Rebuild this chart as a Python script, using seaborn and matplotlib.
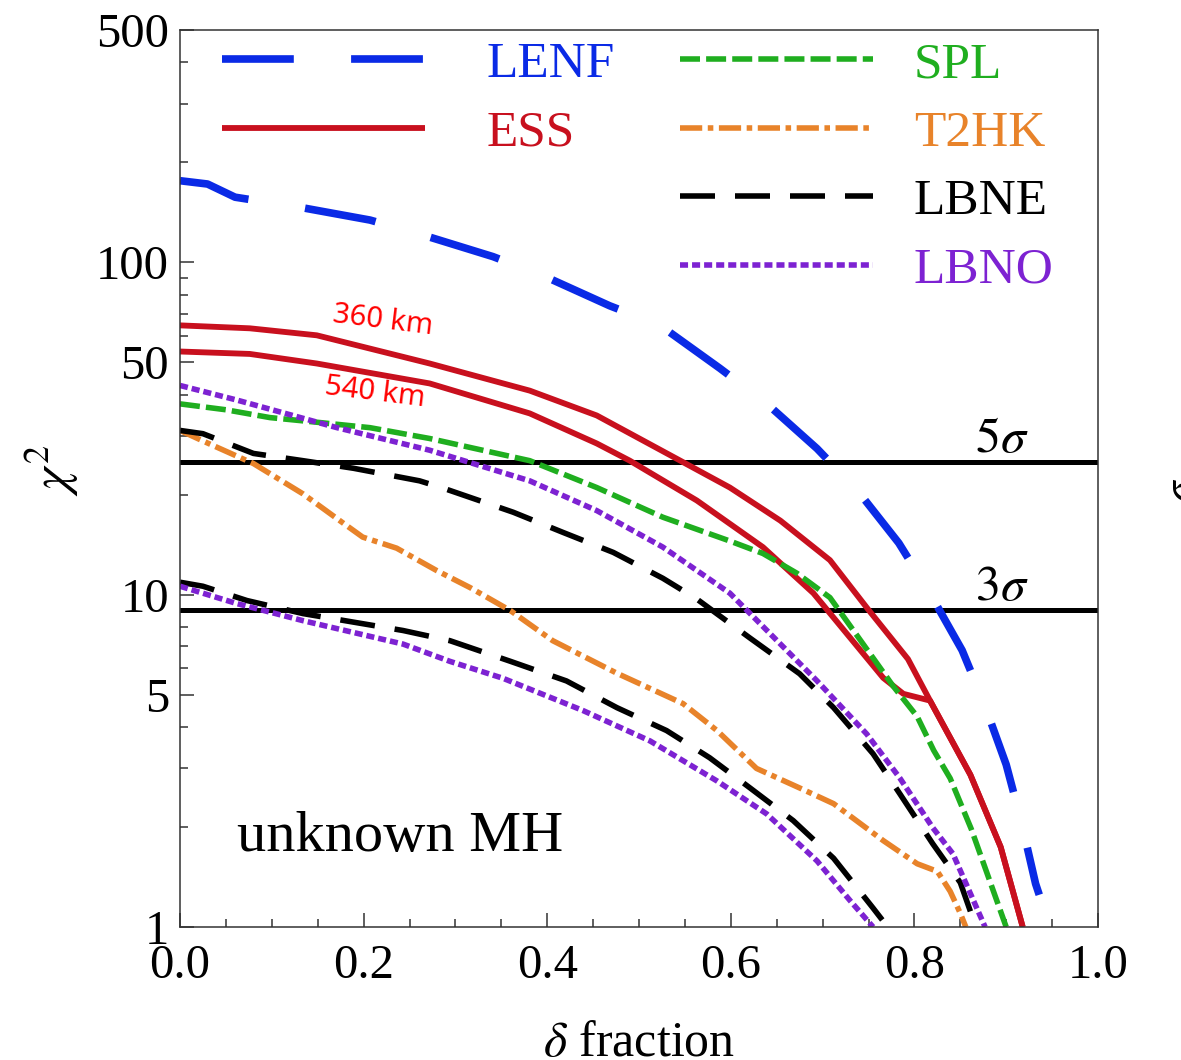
import matplotlib
matplotlib.use("Agg")
import matplotlib.pyplot as plt
import seaborn as sns
import pandas as pd
from matplotlib.ticker import FixedLocator, FixedFormatter, NullFormatter, LogLocator

# ---------------- data: chi^2 versus delta fraction ----------------
lenf_x = [0, 0.03, 0.06, 0.133, 0.207, 0.268, 0.341, 0.40, 0.468, 0.523, 0.588, 0.639,
          0.694, 0.739, 0.783, 0.816, 0.852, 0.876, 0.90, 0.916, 0.932, 0.936]
lenf_y = [176, 172, 157, 146, 134, 120, 104, 90, 74, 64.6, 48, 37.6,
          27.5, 20.4, 14.3, 10.2, 6.8, 4.7, 3.08, 2.1, 1.35, 1.25]

ess360_x = [0, 0.076, 0.149, 0.272, 0.381, 0.454, 0.545, 0.599, 0.654, 0.708, 0.75,
            0.793, 0.817, 0.861, 0.894, 0.918]
ess360_y = [64.6, 63.3, 60.3, 49.6, 41.1, 34.6, 25.3, 21.0, 16.7, 12.7, 9.0,
            6.4, 4.8, 2.87, 1.74, 1.0]

ess540_x = [0, 0.076, 0.149, 0.272, 0.381, 0.454, 0.49, 0.563, 0.635, 0.69, 0.766,
            0.788, 0.817, 0.861, 0.894, 0.918]
ess540_y = [53.9, 53.0, 49.6, 43.2, 35.1, 28.5, 25.3, 19.2, 13.9, 10.1, 5.62,
            5.03, 4.8, 2.87, 1.74, 1.0]

spl_x = [0, 0.05, 0.098, 0.15, 0.207, 0.272, 0.381, 0.454, 0.526, 0.599, 0.635, 0.672,
         0.708, 0.777, 0.803, 0.821, 0.839, 0.862, 0.90]
spl_y = [37.5, 36, 34.1, 33, 31.8, 29.5, 25.3, 21.0, 17.1, 14.5, 13.3, 11.6,
         9.8, 5.3, 4.3, 3.4, 2.8, 1.97, 1.0]

t2hk_x = [0, 0.025, 0.08, 0.134, 0.178, 0.199, 0.236, 0.28, 0.316, 0.36, 0.406, 0.476,
          0.548, 0.585, 0.628, 0.675, 0.712, 0.766, 0.803, 0.825, 0.839, 0.85, 0.856]
t2hk_y = [31.2, 29, 24.8, 20.1, 16.4, 14.9, 13.8, 11.8, 10.5, 8.95, 7.27, 5.8,
          4.7, 3.9, 3.0, 2.62, 2.35, 1.82, 1.55, 1.47, 1.28, 1.1, 1.0]

lbne_hi_x = [0, 0.025, 0.08, 0.134, 0.189, 0.261, 0.287, 0.363, 0.417, 0.472, 0.526,
             0.563, 0.621, 0.675, 0.712, 0.755, 0.784, 0.82, 0.85, 0.867]
lbne_hi_y = [31.2, 30.5, 26.6, 25.3, 24, 22, 20.9, 17.7, 15.4, 13.4, 11.2,
             9.7, 7.4, 5.78, 4.57, 3.32, 2.52, 1.78, 1.36, 1.0]

lbno_hi_x = [0, 0.062, 0.171, 0.272, 0.381, 0.454, 0.526, 0.599, 0.694, 0.748, 0.784,
             0.82, 0.842, 0.877]
lbno_hi_y = [42.6, 38.5, 31.8, 27.2, 22.0, 17.9, 13.9, 10.1, 5.5, 3.81, 2.81,
             1.99, 1.66, 1.0]

lbne_lo_x = [0, 0.025, 0.073, 0.134, 0.243, 0.294, 0.36, 0.421, 0.476, 0.53, 0.577,
             0.621, 0.668, 0.712, 0.755, 0.765]
lbne_lo_y = [10.9, 10.6, 9.6, 8.77, 7.8, 7.27, 6.3, 5.5, 4.57, 3.9, 3.23,
             2.62, 2.09, 1.61, 1.14, 1.05]

lbno_lo_x = [0, 0.062, 0.134, 0.243, 0.294, 0.352, 0.439, 0.512, 0.585, 0.639, 0.694,
             0.73, 0.755]
lbno_lo_y = [10.6, 9.4, 8.35, 7.1, 6.3, 5.6, 4.48, 3.63, 2.75, 2.19, 1.58,
             1.2, 1.0]

sigma_levels = [25, 9]
sigma_labels = ["$5\\sigma$", "$3\\sigma$"]

# ---------------- styles ----------------
BLUE = "#0a2ae6"
RED = "#c8101e"
GREEN = "#1fae1f"
ORANGE = "#e8832a"
PURPLE = "#7d22d2"
BLACK = "#000000"

sns.set_style("ticks")
plt.rcParams["font.family"] = ["Liberation Serif", "DejaVu Serif"]
plt.rcParams["mathtext.fontset"] = "stix"
for key in ("text.color", "axes.labelcolor", "xtick.labelcolor", "ytick.labelcolor"):
    plt.rcParams[key] = "black"

fig = plt.figure(figsize=(11.81, 10.60), dpi=100)
ax = fig.add_axes([180 / 1181, 1 - 927 / 1060, 918 / 1181, 897 / 1060])


def draw(xs, ys, color, lw, dashes):
    df = pd.DataFrame({"x": xs, "y": ys})
    sns.lineplot(data=df, x="x", y="y", ax=ax, color=color, lw=lw,
                 sort=False, estimator=None)
    line = ax.lines[-1]
    if dashes is None:
        line.set_linestyle("-")
    else:
        line.set_linestyle((0, dashes))
    line.set_solid_capstyle("butt")
    line.set_dash_capstyle("butt")
    line.set_solid_joinstyle("round")
    return line


h_lenf = draw(lenf_x, lenf_y, BLUE, 5.5, (9.4, 7.5))
h_ess = draw(ess360_x, ess360_y, RED, 4.2, None)
draw(ess540_x, ess540_y, RED, 4.2, None)
h_spl = draw(spl_x, spl_y, GREEN, 4.0, (3.6, 1.1))
h_t2hk = draw(t2hk_x, t2hk_y, ORANGE, 4.0, (4.0, 1.0, 1.0, 1.0))
h_lbne = draw(lbne_hi_x, lbne_hi_y, BLACK, 4.0, (6.3, 3.6))
draw(lbne_lo_x, lbne_lo_y, BLACK, 4.0, (6.3, 3.6))
h_lbno = draw(lbno_hi_x, lbno_hi_y, PURPLE, 4.0, (1.45, 0.72))
draw(lbno_lo_x, lbno_lo_y, PURPLE, 4.0, (1.45, 0.72))

for lvl, lab in zip(sigma_levels, sigma_labels):
    ax.axhline(lvl, color="black", lw=3.6, zorder=1)
    ax.text(0.866, lvl * 1.072, lab, fontsize=36, ha="left", va="baseline")

ax.text(0.221, 66.9, "360 km", color="#ff0000", fontsize=21, rotation=-7,
        ha="center", va="center", family=["Noto Sans", "DejaVu Sans"])
ax.text(0.212, 40.6, "540 km", color="#ff0000", fontsize=21, rotation=-7,
        ha="center", va="center", family=["Noto Sans", "DejaVu Sans"])
ax.text(0.062, 1.69, "unknown MH", fontsize=42, ha="left", va="baseline")

# ---------------- axes ----------------
ax.set_yscale("log")
ax.set_xlim(0, 1)
ax.set_ylim(1, 500)
ax.yaxis.set_major_locator(FixedLocator([1, 5, 10, 50, 100, 500]))
ax.yaxis.set_major_formatter(FixedFormatter(["1", "5", "10", "50", "100", "500"]))
ax.yaxis.set_minor_locator(LogLocator(base=10, subs=range(2, 10)))
ax.yaxis.set_minor_formatter(NullFormatter())
ax.xaxis.set_major_locator(FixedLocator([0, 0.2, 0.4, 0.6, 0.8, 1.0]))
ax.xaxis.set_major_formatter(FixedFormatter(["0.0", "0.2", "0.4", "0.6", "0.8", "1.0"]))
ax.xaxis.set_minor_locator(FixedLocator([i * 0.05 for i in range(21)]))

ax.tick_params(which="both", direction="in", color="#333333", width=1.1,
               top=False, right=False)
ax.tick_params(which="major", length=10)
ax.tick_params(which="minor", length=5.5)
ax.tick_params(axis="y", which="major", labelsize=35, pad=8, labelcolor="black")
ax.tick_params(axis="x", which="major", labelsize=35, pad=12, labelcolor="black")
for s in ax.spines.values():
    s.set_color("#333333")
    s.set_linewidth(1.1)

ax.set_ylabel("$\\chi^2$", fontsize=37, color="black")
ax.yaxis.set_label_coords(-0.108, 0.509)
ax.set_xlabel("$\\delta$ fraction", fontsize=36, color="black")
ax.xaxis.set_label_coords(0.5, -0.104)

# label cut by the right edge of the figure
fig.text(1163 / 1181, 1 - 490 / 1060, "$\\sigma$", fontsize=30, rotation=90,
         ha="left", va="center")

# ---------------- legends ----------------
leg1 = ax.legend([h_lenf, h_ess], ["LENF", "ESS"], loc="upper left",
                 bbox_to_anchor=(0.0458, 0.9875), frameon=False, fontsize=37,
                 handlelength=3.95, handletextpad=1.2, labelspacing=0.42,
                 borderpad=0, borderaxespad=0, labelcolor="linecolor")
ax.add_artist(leg1)
ax.legend([h_spl, h_t2hk, h_lbne, h_lbno], ["SPL", "T2HK", "LBNE", "LBNO"],
          loc="upper left", bbox_to_anchor=(0.5447, 0.9875), frameon=False,
          fontsize=37, handlelength=3.75, handletextpad=0.8, labelspacing=0.42,
          borderpad=0, borderaxespad=0, labelcolor="linecolor")

fig.savefig("out.png", dpi=100)
